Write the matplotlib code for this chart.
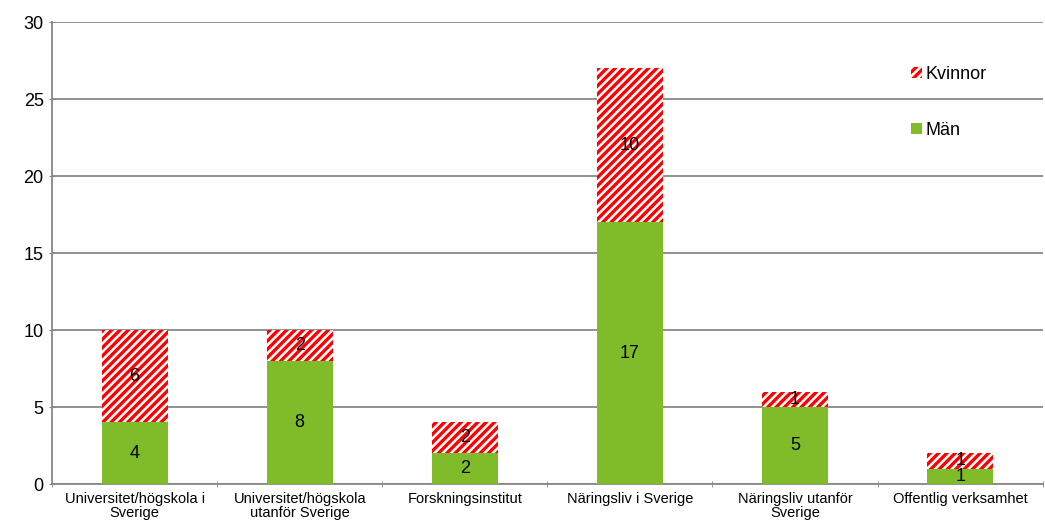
import matplotlib.pyplot as plt
import numpy as np

# kategorier och värden
categories = ["Universitet/högskola i\nSverige", "Universitet/högskola\nutanför Sverige",
              "Forskningsinstitut", "Näringsliv i Sverige",
              "Näringsliv utanför\nSverige", "Offentlig verksamhet"]
man = [4, 8, 2, 17, 5, 1]
kvinnor = [6, 2, 2, 10, 1, 1]

plt.rcParams['font.family'] = ['Liberation Sans', 'DejaVu Sans']
plt.rcParams['hatch.linewidth'] = 2.4
plt.rcParams['hatch.color'] = '#ff0000'

fig = plt.figure(figsize=(10.45, 5.28), dpi=100)
ax = fig.add_axes([0.0498, 0.0833, 0.948, 0.875])

x = np.arange(len(categories))
w = 0.4
b1 = ax.bar(x, man, w, color='#80bc2a', label='Män', zorder=3)
b2 = ax.bar(x, kvinnor, w, bottom=man, facecolor='white', edgecolor='#ff0000',
            hatch='////', linewidth=0, label='Kvinnor', zorder=3)

for i in range(len(x)):
    ax.text(x[i], man[i] / 2, str(man[i]), ha='center', va='center', fontsize=13, zorder=4)
    ax.text(x[i], man[i] + kvinnor[i] / 2, str(kvinnor[i]), ha='center', va='center',
            fontsize=13, zorder=4)

ax.set_xlim(-0.5, len(categories) - 0.5)
ax.set_ylim(0, 30)
ax.set_yticks(range(0, 31, 5))
ax.set_xticks(x)
ax.set_xticklabels(categories, fontsize=10.5, linespacing=1.0)
ax.tick_params(axis='x', length=0, pad=6)
ax.set_xticks(np.arange(-0.5, len(categories), 1), minor=True)
ax.tick_params(axis='x', which='minor', length=5, color='#888888', direction='inout')
ax.tick_params(axis='y', labelsize=13, length=5, color='#888888', direction='inout')

ax.grid(axis='y', color='#888888', linewidth=1.3, zorder=0)
for s in ['top', 'right']:
    ax.spines[s].set_visible(False)
for s in ['left', 'bottom']:
    ax.spines[s].set_color('#888888')
    ax.spines[s].set_linewidth(1.3)

h, l = ax.get_legend_handles_labels()
ax.legend([h[1], h[0]], [l[1], l[0]], loc='upper left', bbox_to_anchor=(0.851, 0.94),
          frameon=False, fontsize=13, handlelength=0.6, handleheight=0.6,
          handletextpad=0.2, labelspacing=2.15)

plt.savefig('out.png', dpi=100)
